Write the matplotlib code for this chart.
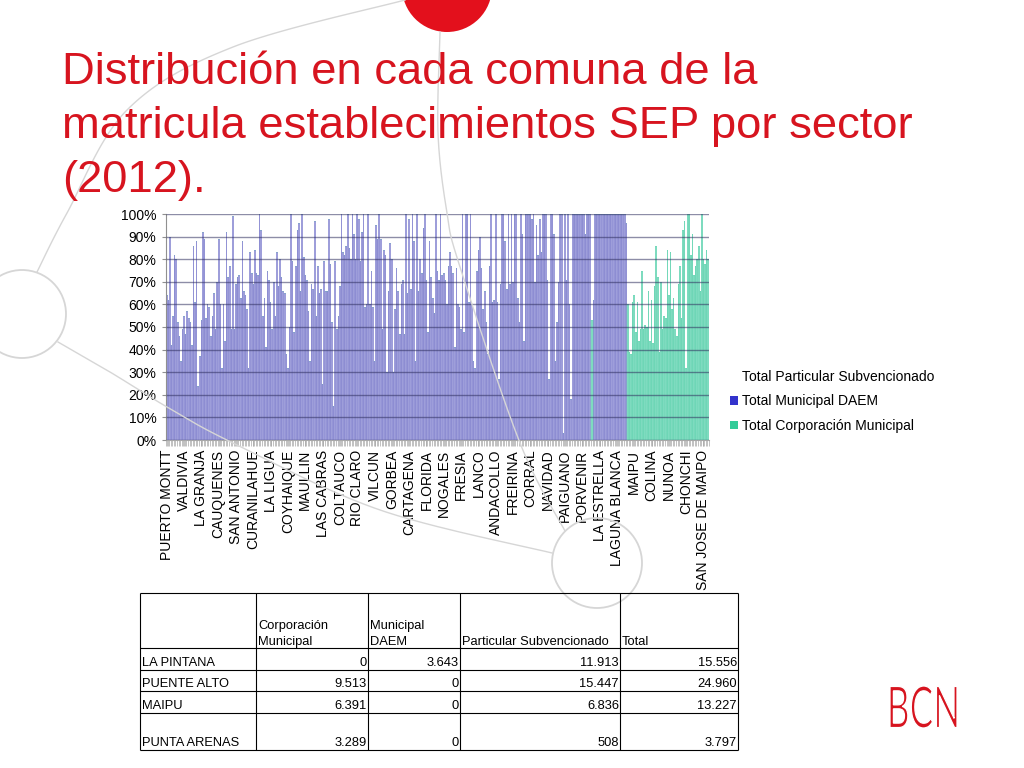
import matplotlib.pyplot as plt
import numpy as np
from matplotlib.patches import Circle, Patch, PathPatch
from matplotlib.textpath import TextPath
from matplotlib.font_manager import FontProperties
from matplotlib.ticker import PercentFormatter
from matplotlib.transforms import Affine2D

plt.rcParams['font.family'] = ['Liberation Sans', 'DejaVu Sans']

# ---- datos ----
titulo = ['Distribución en cada comuna de la',
          'matricula establecimientos SEP por sector',
          '(2012).']

# una etiqueta cada 11 comunas
etiquetas = ['PUERTO MONTT', 'VALDIVIA', 'LA GRANJA', 'CAUQUENES', 'SAN ANTONIO',
             'CURANILAHUE', 'LA LIGUA', 'COYHAIQUE', 'MAULLIN', 'LAS CABRAS',
             'COLTAUCO', 'RIO CLARO', 'VILCUN', 'GORBEA', 'CARTAGENA', 'FLORIDA',
             'NOGALES', 'FRESIA', 'LANCO', 'ANDACOLLO', 'FREIRINA', 'CORRAL',
             'NAVIDAD', 'PAIGUANO', 'PORVENIR', 'LA ESTRELLA', 'LAGUNA BLANCA',
             'MAIPU', 'COLINA', 'NUNOA', 'CHONCHI', 'SAN JOSE DE MAIPO']

# % matricula municipal DAEM (comunas con DAEM)
daem = [64, 62, 90, 42, 55, 82, 80, 52, 46, 35,
        49, 55, 47, 57, 54, 52, 42, 86, 61, 88,
        24, 37, 53, 92, 89, 54, 60, 59, 46, 55,
        65, 49, 70, 89, 60, 32, 60, 44, 92, 72,
        77, 49, 99, 49, 69, 72, 73, 63, 88, 66,
        64, 58, 32, 83, 74, 69, 84, 74, 73,
        100, 93, 55, 63, 41, 75, 71, 61, 49, 70,
        55, 83, 68, 80, 72, 66, 65, 38, 32, 50,
        100, 79, 48, 77, 93, 96, 66, 100, 81, 73,
        71, 57, 35, 69, 67, 97, 55, 77, 65, 67,
        25, 79, 66, 66, 98, 78, 52, 15, 79, 49,
        55, 68, 100, 83, 82, 86, 100, 85, 80, 100,
        91,
        80, 100, 98, 79, 92, 100, 59, 60, 100, 60,
        75, 59, 35, 95, 89, 100, 89, 49, 84, 82,
        30, 66, 87, 80, 30, 58, 76, 66, 47, 69,
        71, 47, 100, 65, 98, 67, 100, 88, 35, 100,
        66, 80, 74, 94, 100, 71, 48, 88, 72, 63,
        56, 100, 75, 71, 100, 73, 74, 71, 60, 77,
        83, 77, 74, 41, 76, 60, 59, 49, 100, 48,
        100, 100, 61, 100, 60, 35, 32, 75, 84, 90,
        76, 58, 66, 52, 38, 77, 100, 61, 62, 100,
        61, 27, 69, 100, 100, 88, 67, 100, 69, 100,
        70, 100, 100, 63, 52, 100, 91, 44, 100, 100,
        100, 100, 98, 100, 70, 95, 82, 98, 83, 100,
        100, 100, 71, 27, 100, 100, 91, 35, 52, 70,
        100, 100, 3, 100, 71, 100, 60, 18, 100, 100,
        100, 100, 100, 100, 100, 100, 91, 100, 100, 100,
        0, 62, 100, 100, 100, 100, 100, 100, 100, 100,
        100, 100, 100, 100, 100, 100, 100, 100, 100, 100,
        100, 100, 96]

# % matricula corporacion municipal (comunas con corporacion)
corporacion = [60, 39, 38, 61, 64, 48, 61, 44, 49, 75,
               49, 51, 50, 66, 44, 62, 43, 68, 86, 72,
               39, 70, 49, 55, 54, 84, 64, 83, 58, 63,
               49, 46, 69, 77, 54, 93, 97, 32, 100, 100,
               82, 91, 73, 77, 80, 86, 66, 100, 80, 78,
               84, 80]

# comuna con corporacion dentro del bloque DAEM (posicion, %)
corp_suelta = (270, 53)

series = ['Total Particular Subvencionado', 'Total Municipal DAEM',
          'Total Corporación Municipal']

# tabla
tabla_cols = ['Corporación\nMunicipal', 'Municipal\nDAEM',
              'Particular Subvencionado', 'Total']
tabla_filas = ['LA PINTANA', 'PUENTE ALTO', 'MAIPU', 'PUNTA ARENAS']
tabla_corp = ['0', '9.513', '6.391', '3.289']
tabla_daem = ['3.643', '0', '0', '0']
tabla_part = ['11.913', '15.447', '6.836', '508']
tabla_total = ['15.556', '24.960', '13.227', '3.797']

ROJO = '#d7141f'

n = len(daem) + len(corporacion)
d = np.zeros(n)
d[:len(daem)] = daem
c = np.zeros(n)
c[len(daem):] = corporacion
c[corp_suelta[0]] = corp_suelta[1]
p = 100 - d - c
x = np.arange(n)

fig = plt.figure(figsize=(10.24, 7.68), dpi=100)
fig.set_facecolor('white')

# ---- grafico ----
ax = fig.add_axes([166 / 1024, 1 - 440 / 768, 543 / 1024, 226 / 768])
ax.bar(x, d, width=1.0, color='#a9a9df', edgecolor='#7d7dcb', linewidth=0.35)
ax.bar(x, c, bottom=d, width=1.0, color='#88dfc5', edgecolor='#5fd1ae', linewidth=0.35)
ax.bar(x, p, bottom=d + c, width=1.0, color='white', linewidth=0)

ax.set_xlim(-0.5, n - 0.5)
ax.set_ylim(0, 100)
ax.set_yticks(np.arange(0, 101, 10))
ax.yaxis.set_major_formatter(PercentFormatter(decimals=0))
ax.set_axisbelow(False)
ax.grid(axis='y', color='#303060', alpha=0.55, linewidth=1.0)

ax.set_xticks(x[::11])
ax.set_xticklabels(etiquetas, rotation=90, fontsize=10)
ax.set_xticks(np.arange(-0.5, n, 1), minor=True)
ax.tick_params(axis='x', which='both', length=4, width=0.5, color='#a8a8a8', pad=3)
ax.tick_params(axis='y', length=3, color='#909090', labelsize=10, pad=4)
for s in ['top', 'right']:
    ax.spines[s].set_visible(False)
ax.spines['left'].set_color('#909090')
ax.spines['bottom'].set_color('#a8a8a8')

handles = [Patch(facecolor='white', edgecolor='none'),
           Patch(facecolor='#3333cc', edgecolor='none'),
           Patch(facecolor='#33cc99', edgecolor='none')]
ax.legend(handles, series, loc='upper left', bbox_to_anchor=(730 / 1024, 1 - 370 / 768),
          bbox_transform=fig.transFigure, frameon=False, fontsize=10,
          handlelength=0.55, handleheight=0.55, handletextpad=0.3,
          labelspacing=0.75, borderpad=0, borderaxespad=0)

# ---- decoracion, titulo y tabla (coordenadas en pixeles) ----
deco = fig.add_axes([0, 0, 1, 1])
deco.set_xlim(0, 1024)
deco.set_ylim(768, 0)
deco.set_axis_off()
deco.set_zorder(5)


def curva(puntos, pasos=30):
    pts = np.array(puntos, dtype=float)
    pts = np.vstack([pts[0], pts, pts[-1]])
    out = []
    for i in range(1, len(pts) - 2):
        p0, p1, p2, p3 = pts[i - 1], pts[i], pts[i + 1], pts[i + 2]
        t = np.linspace(0, 1, pasos)[:, None]
        out.append(0.5 * ((2 * p1) + (-p0 + p2) * t + (2 * p0 - 5 * p1 + 4 * p2 - p3) * t ** 2
                          + (-p0 + 3 * p1 - 3 * p2 + p3) * t ** 3))
    return np.vstack(out)


gris = '#d6d6d6'
for pts in [[(37, 272), (67, 213), (127, 110), (233, 47), (405, 0)],
            [(58, 342), (110, 372), (167, 407), (233, 443), (380, 510), (552, 553)],
            [(440, 32), (438, 133), (447, 213), (460, 267), (520, 443), (565, 531)]]:
    cv = curva(pts)
    deco.plot(cv[:, 0], cv[:, 1], color=gris, lw=1.0)

deco.add_patch(Circle((22, 314), 44, facecolor='none', edgecolor=gris, lw=1.3))
deco.add_patch(Circle((597, 563), 45, facecolor='none', edgecolor=gris, lw=1.3))
deco.add_patch(Circle((447, -13), 45, facecolor='#e3101c', edgecolor='none'))

for i, linea in enumerate(titulo):
    deco.text(62, 84 + i * 54, linea, fontsize=32.7, color=ROJO, va='baseline', ha='left')

# tabla
fuente_tabla = ['Liberation Sans', 'DejaVu Sans']
ft = 9.3
cols_x = [140, 256, 368, 460, 620, 738]
filas_y = [593, 648, 670, 691, 713, 750]
deco.hlines(filas_y, cols_x[0], cols_x[-1], color='black', lw=0.8)
deco.vlines(cols_x, filas_y[0], filas_y[-1], color='black', lw=0.8)
for j, col in enumerate(tabla_cols):
    partes = col.split('\n')
    for k, parte in enumerate(reversed(partes)):
        deco.text(cols_x[j + 1] + 2, 645 - k * 16, parte, fontsize=ft,
                  family=fuente_tabla, va='baseline', ha='left')
valores = [tabla_corp, tabla_daem, tabla_part, tabla_total]
for i, fila in enumerate(tabla_filas):
    yb = filas_y[i + 2] - 4
    deco.text(cols_x[0] + 2, yb, fila, fontsize=ft, family=fuente_tabla,
              va='baseline', ha='left')
    for j, col in enumerate(valores):
        deco.text(cols_x[j + 2] - 1, yb, col[i], fontsize=ft, family=fuente_tabla,
                  va='baseline', ha='right')

# logo BCN (trazo algo mas fino con borde blanco)
tp = TextPath((0, 0), 'BCN', size=1, prop=FontProperties(family=['Lato', 'Liberation Sans'], weight='normal'))
ext = tp.get_extents()
sx = 67 / ext.width
sy = 42 / ext.height
tr = Affine2D().translate(-ext.x0, -ext.y0).scale(sx, -sy).translate(890, 728)
deco.add_patch(PathPatch(tr.transform_path(tp), facecolor=ROJO, edgecolor='white', lw=0.9))

fig.savefig('out.png', dpi=100)
